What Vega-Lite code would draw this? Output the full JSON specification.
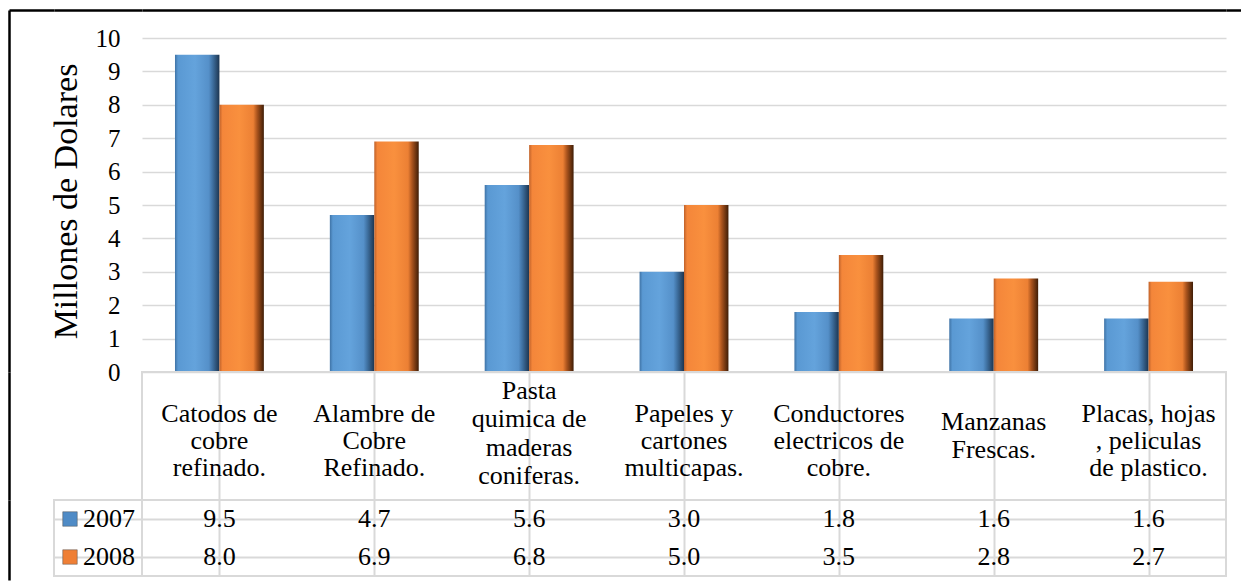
{
  "$schema": "https://vega.github.io/schema/vega-lite/v6.json",
  "padding": {"left": 6, "top": 10, "right": 0, "bottom": 0},
  "background": "white",
  "config": {
    "font": "Liberation Serif",
    "axis": {"labelFont": "Liberation Serif", "titleFont": "Liberation Serif"},
    "text": {"font": "Liberation Serif"},
    "mark": {"font": "Liberation Serif"},
    "view": {"stroke": null},
    "concat": {"spacing": 0}
  },
  "datasets": {
    "datos": [
      {"producto": "Catodos de|cobre|refinado.", "anio": "2007", "valor": 9.5},
      {"producto": "Catodos de|cobre|refinado.", "anio": "2008", "valor": 8.0},
      {"producto": "Alambre de|Cobre|Refinado.", "anio": "2007", "valor": 4.7},
      {"producto": "Alambre de|Cobre|Refinado.", "anio": "2008", "valor": 6.9},
      {"producto": "Pasta|quimica de|maderas|coniferas.", "anio": "2007", "valor": 5.6},
      {"producto": "Pasta|quimica de|maderas|coniferas.", "anio": "2008", "valor": 6.8},
      {"producto": "Papeles y|cartones|multicapas.", "anio": "2007", "valor": 3.0},
      {"producto": "Papeles y|cartones|multicapas.", "anio": "2008", "valor": 5.0},
      {"producto": "Conductores|electricos de|cobre.", "anio": "2007", "valor": 1.8},
      {"producto": "Conductores|electricos de|cobre.", "anio": "2008", "valor": 3.5},
      {"producto": "Manzanas|Frescas.", "anio": "2007", "valor": 1.6},
      {"producto": "Manzanas|Frescas.", "anio": "2008", "valor": 2.8},
      {"producto": "Placas, hojas|, peliculas|de plastico.", "anio": "2007", "valor": 1.6},
      {"producto": "Placas, hojas|, peliculas|de plastico.", "anio": "2008", "valor": 2.7}
    ],
    "anios": [{"anio": "2007"}, {"anio": "2008"}],
    "vacio": [{"v": 0}]
  },
  "columns": 4,
  "spacing": 0,
  "bounds": "flush",
  "concat": [
    {
      "width": 45, "height": 362,
      "data": {"name": "vacio"},
      "mark": {"type": "point", "opacity": 0},
      "encoding": {
        "x": {"field": "v", "type": "quantitative", "scale": {"domain": [0, 1]}, "axis": {"orient": "top", "labels": false, "ticks": false, "grid": false, "title": null, "domainColor": "black", "domainWidth": 2.5}},
        "y": {"field": "v", "type": "quantitative", "scale": {"domain": [0, 1]}, "axis": {"orient": "left", "labels": false, "ticks": false, "grid": false, "title": null, "domainColor": "black", "domainWidth": 2.5}}
      }
    },
    {
      "width": 88, "height": 362,
      "data": {"name": "vacio"},
      "mark": {"type": "point", "opacity": 0},
      "encoding": {
        "x": {"field": "v", "type": "quantitative", "scale": {"domain": [0, 1]}, "axis": {"orient": "top", "labels": false, "ticks": false, "grid": false, "title": null, "domainColor": "black", "domainWidth": 2.5}}
      }
    },
    {
      "width": 1084, "height": 362,
      "data": {"name": "datos"},
      "encoding": {
        "x": {"field": "producto", "type": "nominal", "sort": ["Catodos de|cobre|refinado.", "Alambre de|Cobre|Refinado.", "Pasta|quimica de|maderas|coniferas.", "Papeles y|cartones|multicapas.", "Conductores|electricos de|cobre.", "Manzanas|Frescas.", "Placas, hojas|, peliculas|de plastico."], "scale": {"paddingInner": 0.426, "paddingOuter": 0.213}, "axis": {"orient": "top", "labels": false, "ticks": false, "grid": false, "title": null, "domainColor": "black", "domainWidth": 2.5}},
        "xOffset": {"field": "anio", "type": "nominal", "scale": {"domain": ["2007", "2008"]}},
        "y": {"field": "valor", "type": "quantitative", "scale": {"domain": [0, 10.84], "nice": false}, "axis": {"values": [0, 1, 2, 3, 4, 5, 6, 7, 8, 9, 10], "grid": true, "gridColor": "#d9d9d9", "gridWidth": 1.5, "domain": false, "ticks": false, "labelFont": "Liberation Serif", "labelFontSize": 25, "labelColor": "black", "labelPadding": 22, "title": "Millones de Dolares", "titleFont": "Liberation Serif", "titleFontSize": 34, "titleFontWeight": "normal", "titleColor": "black", "titlePadding": 12, "titleY": 191}}
      },
      "layer": [
        {
          "transform": [{"filter": "datum.anio == '2007'"}],
          "mark": {"type": "bar", "color": {"gradient": "linear", "x1": 0, "y1": 0, "x2": 1, "y2": 0, "stops": [
            {"offset": 0, "color": "#3f73a6"}, {"offset": 0.07, "color": "#5a99d3"}, {"offset": 0.45, "color": "#64a3dc"},
            {"offset": 0.76, "color": "#5590c9"}, {"offset": 0.85, "color": "#3e6f9f"}, {"offset": 1, "color": "#1d3550"}]}}
        },
        {
          "transform": [{"filter": "datum.anio == '2008'"}],
          "mark": {"type": "bar", "color": {"gradient": "linear", "x1": 0, "y1": 0, "x2": 1, "y2": 0, "stops": [
            {"offset": 0, "color": "#c0622a"}, {"offset": 0.07, "color": "#f4863a"}, {"offset": 0.45, "color": "#f9903e"},
            {"offset": 0.76, "color": "#ec8034"}, {"offset": 0.85, "color": "#a9531d"}, {"offset": 1, "color": "#3f1d06"}]}}
        }
      ]
    },
    {
      "width": 15, "height": 362,
      "data": {"name": "vacio"},
      "mark": {"type": "point", "opacity": 0},
      "encoding": {
        "x": {"field": "v", "type": "quantitative", "scale": {"domain": [0, 1]}, "axis": {"orient": "top", "labels": false, "ticks": false, "grid": false, "title": null, "domainColor": "black", "domainWidth": 2.5}}
      }
    },
    {
      "width": 45, "height": 128,
      "data": {"name": "vacio"},
      "mark": {"type": "point", "opacity": 0},
      "encoding": {
        "y": {"field": "v", "type": "quantitative", "scale": {"domain": [0, 1]}, "axis": {"orient": "left", "labels": false, "ticks": false, "grid": false, "title": null, "domainColor": "black", "domainWidth": 2.5}}
      }
    },
    {
      "width": 88, "height": 128,
      "data": {"name": "vacio"},
      "mark": {"type": "point", "opacity": 0},
      "encoding": {}
    },
    {
      "width": 1084, "height": 128,
      "data": {"name": "datos"},
      "transform": [{"filter": "datum.anio == '2007'"}],
      "view": {"stroke": "#d9d9d9", "strokeWidth": 2},
      "encoding": {
        "x": {"field": "producto", "type": "nominal", "sort": ["Catodos de|cobre|refinado.", "Alambre de|Cobre|Refinado.", "Pasta|quimica de|maderas|coniferas.", "Papeles y|cartones|multicapas.", "Conductores|electricos de|cobre.", "Manzanas|Frescas.", "Placas, hojas|, peliculas|de plastico."], "scale": {"paddingInner": 0, "paddingOuter": 0}, "axis": {"orient": "top", "bandPosition": 0, "grid": true, "gridColor": "#d9d9d9", "gridWidth": 2, "labels": false, "ticks": false, "domain": false, "title": null}},
        "text": {"field": "producto", "type": "nominal"}
      },
      "layer": [
        {
          "transform": [{"filter": "length(split(datum.producto, '|')) == 2"}],
          "mark": {"type": "text", "font": "Liberation Serif", "lineBreak": "|", "fontSize": 26, "lineHeight": 27.5, "baseline": "middle", "dy": -14, "color": "black"}
        },
        {
          "transform": [{"filter": "length(split(datum.producto, '|')) == 3"}],
          "mark": {"type": "text", "font": "Liberation Serif", "lineBreak": "|", "fontSize": 26, "lineHeight": 27, "baseline": "middle", "dy": -22.5, "color": "black"}
        },
        {
          "transform": [{"filter": "length(split(datum.producto, '|')) == 4"}],
          "mark": {"type": "text", "font": "Liberation Serif", "lineBreak": "|", "fontSize": 26, "lineHeight": 28.3, "baseline": "middle", "dy": -45, "color": "black"}
        }
      ]
    },
    {
      "width": 15, "height": 128,
      "data": {"name": "vacio"},
      "mark": {"type": "point", "opacity": 0},
      "encoding": {}
    },
    {
      "width": 45, "height": 80,
      "data": {"name": "vacio"},
      "mark": {"type": "point", "opacity": 0},
      "encoding": {
        "y": {"field": "v", "type": "quantitative", "scale": {"domain": [0, 1]}, "axis": {"orient": "left", "labels": false, "ticks": false, "grid": false, "title": null, "domainColor": "black", "domainWidth": 2.5}}
      }
    },
    {
      "width": 88, "height": 76,
      "data": {"name": "anios"},
      "view": {"stroke": "#d9d9d9", "strokeWidth": 2},
      "encoding": {
        "y": {"field": "anio", "type": "nominal", "scale": {"paddingInner": 0, "paddingOuter": 0}, "axis": {"bandPosition": 0, "grid": true, "gridColor": "#d9d9d9", "gridWidth": 2, "labels": false, "ticks": false, "domain": false, "title": null}}
      },
      "layer": [
        {
          "mark": {"type": "square", "size": 210, "xOffset": -28, "opacity": 1, "stroke": "#555555", "strokeWidth": 0.5},
          "encoding": {"color": {"field": "anio", "type": "nominal", "scale": {"domain": ["2007", "2008"], "range": ["#4f8bc6", "#ef7f35"]}, "legend": null}}
        },
        {
          "mark": {"type": "text", "font": "Liberation Serif", "fontSize": 26, "align": "center", "baseline": "middle", "dx": 11, "color": "black"},
          "encoding": {"text": {"field": "anio", "type": "nominal"}}
        }
      ]
    },
    {
      "width": 1084, "height": 76,
      "data": {"name": "datos"},
      "view": {"stroke": "#d9d9d9", "strokeWidth": 2},
      "mark": {"type": "text", "font": "Liberation Serif", "fontSize": 26, "baseline": "middle", "color": "black"},
      "encoding": {
        "x": {"field": "producto", "type": "nominal", "sort": ["Catodos de|cobre|refinado.", "Alambre de|Cobre|Refinado.", "Pasta|quimica de|maderas|coniferas.", "Papeles y|cartones|multicapas.", "Conductores|electricos de|cobre.", "Manzanas|Frescas.", "Placas, hojas|, peliculas|de plastico."], "scale": {"paddingInner": 0, "paddingOuter": 0}, "axis": {"orient": "top", "bandPosition": 0, "grid": true, "gridColor": "#d9d9d9", "gridWidth": 2, "labels": false, "ticks": false, "domain": false, "title": null}},
        "y": {"field": "anio", "type": "nominal", "scale": {"paddingInner": 0, "paddingOuter": 0}, "axis": {"bandPosition": 0, "grid": true, "gridColor": "#d9d9d9", "gridWidth": 2, "labels": false, "ticks": false, "domain": false, "title": null}},
        "text": {"field": "valor", "type": "quantitative", "format": ".1f"}
      }
    },
    {
      "width": 15, "height": 76,
      "data": {"name": "vacio"},
      "mark": {"type": "point", "opacity": 0},
      "encoding": {}
    }
  ]
}
